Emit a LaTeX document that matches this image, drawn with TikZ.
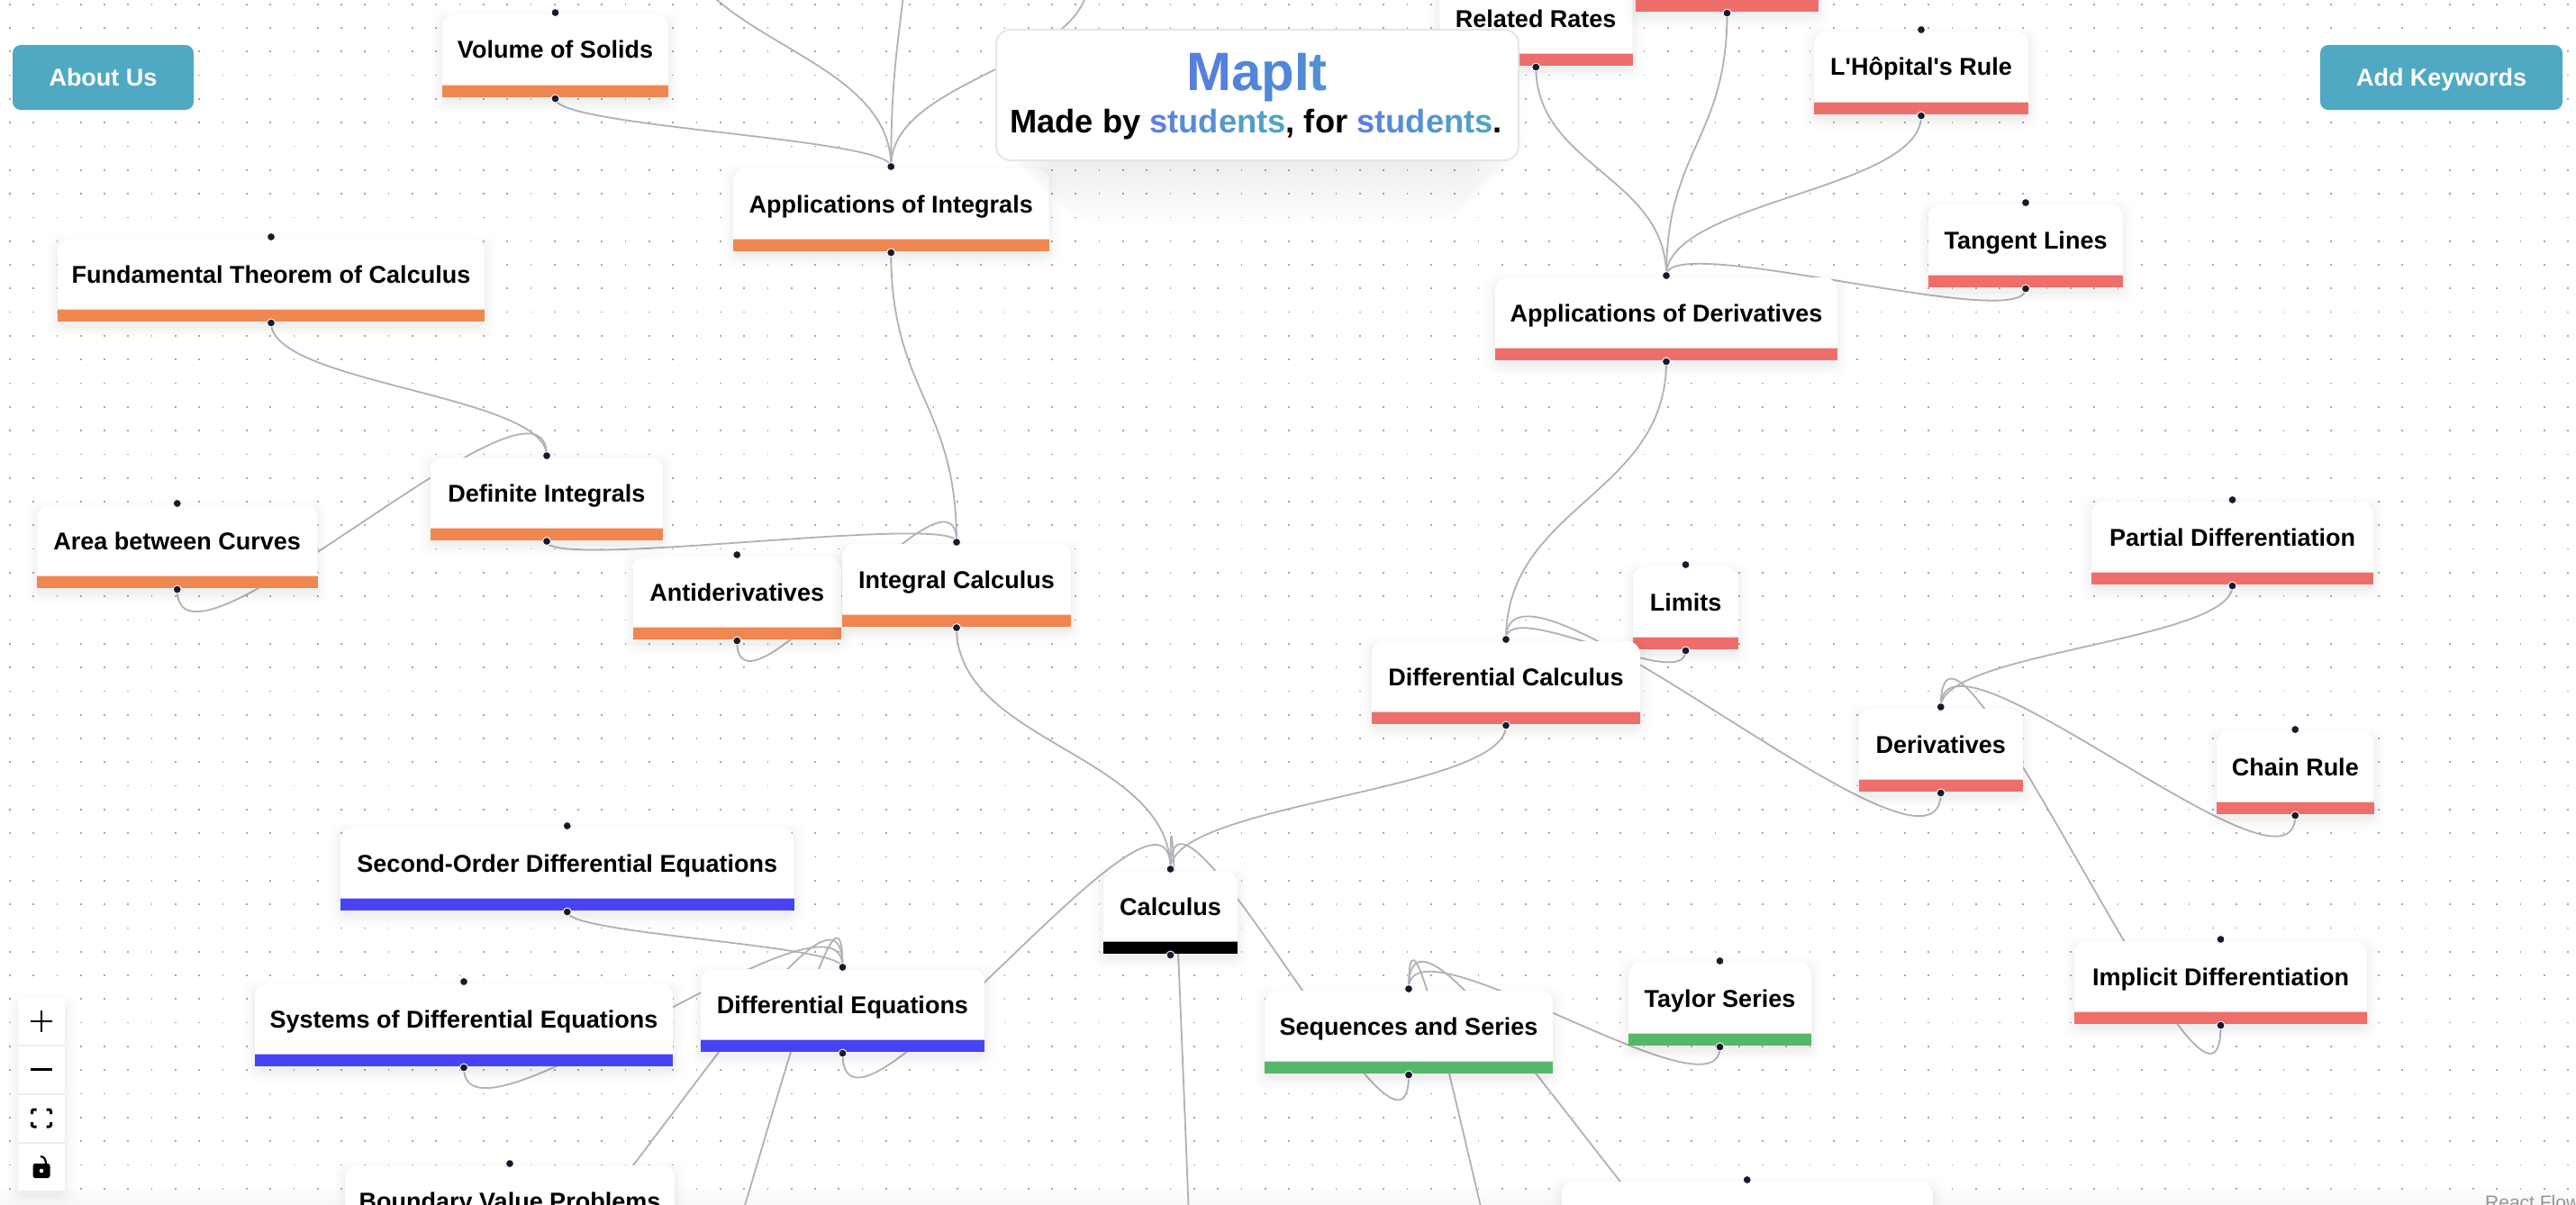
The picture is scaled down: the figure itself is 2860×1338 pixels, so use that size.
\documentclass[tikz,border=0pt]{standalone}
\usepackage{fontspec}
\setmainfont{Liberation Sans}[Ligatures=TeXOff]
\usetikzlibrary{calc}
\definecolor{orangebar}{HTML}{F08650}
\definecolor{redbar}{HTML}{EE6E6B}
\definecolor{bluebar}{HTML}{4743F5}
\definecolor{greenbar}{HTML}{55B868}
\definecolor{blackbar}{HTML}{000000}
\definecolor{edgegray}{HTML}{B1B1B7}
\definecolor{dotgray}{HTML}{A6A6AB}
\definecolor{handlecol}{HTML}{1A192B}
\definecolor{teal}{HTML}{4FA9C2}
\pgfdeclarelayer{backdrop}
\pgfdeclarelayer{edgelayer}
\pgfsetlayers{backdrop,edgelayer,main}
\tikzset{
  x=1pt,y=-1pt,
  cardlabel/.style={anchor=base,inner sep=0pt,font=\fontsize{27}{30}\selectfont\bfseries,text=black},
  handledot/.style={circle,fill=handlecol,draw=white,line width=.9pt,inner sep=0pt,minimum size=9pt},
  edgeline/.style={draw=edgegray,line width=1.8pt},
  btn/.style={fill=teal,rounded corners=9pt,inner sep=0pt,text=white,font=\fontsize{27}{30}\selectfont\bfseries,text depth=0pt},
  iconline/.style={draw=black,line cap=butt},
}
\newcommand\softshadow[4]{%
  \foreach \d/\op in {1/.02,4/.016,7/.012,10/.008,13/.005}{%
    \fill[black,opacity=\op,rounded corners=12pt] ({#1-\d},{#2+6-\d}) rectangle ({#3+\d},{#4+6+\d});
  }}
% name, x1, y1, x2, y2(bottom), colour, label
\newcommand\card[7]{%
  \softshadow{#2}{#3}{#4}{#5}%
  \fill[white] ({#2},{#5}) -- ({#2},{#3+14}) arc[start angle=180,end angle=90,radius=14pt] -- ({#4-14},{#3}) arc[start angle=90,end angle=0,radius=14pt] -- ({#4},{#5}) -- cycle;
  \fill[#6] ({#2},{#5-13}) rectangle ({#4},{#5});
  \fill[#6!35!white] ({#2},{#5-14}) rectangle ({#4},{#5-13});
  \node[cardlabel] (#1) at ({(#2+#4)/2},{#3+49}) {#7};
  \node[handledot] (#1-t) at ({(#2+#4)/2},{#3-2}) {};
  \node[handledot] (#1-b) at ({(#2+#4)/2},{#5+1.5}) {};
}
\newcommand\edg[2]{%
  \pgfpointanchor{#1-b}{center}\pgfgetlastxy{\edgxa}{\edgya}%
  \pgfpointanchor{#2-t}{center}\pgfgetlastxy{\edgxb}{\edgyb}%
  \pgfmathsetmacro\edgdy{\edgya-\edgyb-12}%
  \pgfmathsetmacro\edgc{\edgdy>0?0.5*\edgdy:9.88*sqrt(abs(\edgdy))}%
  \pgfmathsetmacro\edgyc{\edgya-\edgc}%
  \pgfmathsetmacro\edgyd{\edgyb+\edgc}%
  \draw[edgeline] (#1-b.center) .. controls (\edgxa,\edgyc pt) and (\edgxb,\edgyd pt) .. (#2-t.center);
}
\newcommand\gr[2]{\textcolor[HTML]{#1}{#2}}
\newcommand\studentsword{\gr{5B7FE2}{s}\gr{5A84DE}{t}\gr{588ADA}{u}\gr{5690D6}{d}\gr{5496D0}{e}\gr{529CCB}{n}\gr{50A0C7}{t}\gr{4FA4C4}{s}}
\begin{document}
\begin{tikzpicture}
\useasboundingbox (0,0) rectangle (2860,1338);
\begin{pgfonlayer}{backdrop}
  \fill[white] (0,0) rectangle (2860,1338);
  \shade[top color=white,bottom color=black!3] (0,1315) rectangle (2860,1338);
  \foreach \i in {0,...,108}{\foreach \j in {0,...,50}{%
    \fill[dotgray] ({10.8+26.3*\i-.85},{4.7+26.3*\j-.85}) rectangle ++(1.7,1.7);
  }}
\end{pgfonlayer}

\card{voltop}{491}{16}{742}{108}{orangebar}{Volume of Solids}
\card{aoi}{814}{187}{1164.5}{279}{orangebar}{Applications of Integrals}
\card{ftc}{64}{265}{538}{357}{orangebar}{Fundamental Theorem of Calculus}
\card{area}{41}{561}{352.5}{653}{orangebar}{Area between Curves}
\card{defint}{478}{508}{736}{599.5}{orangebar}{Definite Integrals}
\card{anti}{702.5}{618}{934}{710}{orangebar}{Antiderivatives}
\card{intcalc}{935}{604}{1189}{695.5}{orangebar}{Integral Calculus}

\card{related}{1598}{-18}{1812.5}{73}{redbar}{Related Rates}
\card{topr}{1816}{-79}{2019}{13}{redbar}{}
\card{lhop}{2014}{35}{2252}{127}{redbar}{L'Hôpital's Rule}
\card{tangent}{2141}{227}{2357}{319}{redbar}{Tangent Lines}
\card{aod}{1660}{308}{2040}{400}{redbar}{Applications of Derivatives}
\card{limits}{1813}{629}{1930}{721}{redbar}{Limits}
\card{diffcalc}{1523}{712}{1821}{804}{redbar}{Differential Calculus}
\card{partial}{2322}{557}{2635}{649}{redbar}{Partial Differentiation}
\card{deriv}{2063.5}{787}{2246}{879}{redbar}{Derivatives}
\card{chain}{2461}{812}{2635.5}{904}{redbar}{Chain Rule}
\card{implicit}{2303}{1045}{2628}{1137}{redbar}{Implicit Differentiation}

\card{calc}{1225}{967}{1374}{1059}{blackbar}{Calculus}
\card{seq}{1404}{1100}{1724}{1192}{greenbar}{Sequences and Series}
\card{taylor}{1808}{1069}{2011}{1161}{greenbar}{Taylor Series}
\card{lowr}{1733.5}{1312}{2146}{1404}{greenbar}{}

\card{second}{378}{919}{881.5}{1011}{bluebar}{Second-Order Differential Equations}
\card{systems}{283}{1092}{747}{1184}{bluebar}{Systems of Differential Equations}
\card{diffeq}{778}{1076}{1093}{1168}{bluebar}{Differential Equations}
\card{boundary}{383}{1294}{749}{1386}{bluebar}{Boundary Value Problems}

\coordinate (offa-b) at (752,-85);
\coordinate (offb-b) at (1010,-140);
\coordinate (offc-b) at (1209,-25);
\coordinate (offd-b) at (1335,1600);
\coordinate (offe-b) at (1700,1480);
\coordinate (offf-b) at (755,1480);

\begin{pgfonlayer}{edgelayer}
  \edg{offa}{aoi}\edg{offb}{aoi}\edg{offc}{aoi}\edg{voltop}{aoi}
  \edg{aoi}{intcalc}\edg{defint}{intcalc}\edg{anti}{intcalc}
  \edg{ftc}{defint}\edg{area}{defint}
  \edg{intcalc}{calc}\edg{diffcalc}{calc}\edg{diffeq}{calc}\edg{seq}{calc}\edg{offd}{calc}
  \edg{related}{aod}\edg{topr}{aod}\edg{lhop}{aod}\edg{tangent}{aod}
  \edg{aod}{diffcalc}\edg{limits}{diffcalc}\edg{deriv}{diffcalc}
  \edg{partial}{deriv}\edg{chain}{deriv}\edg{implicit}{deriv}
  \edg{taylor}{seq}\edg{lowr}{seq}\edg{offe}{seq}
  \edg{second}{diffeq}\edg{systems}{diffeq}\edg{boundary}{diffeq}\edg{offf}{diffeq}
\end{pgfonlayer}

% buttons
\softshadow{20}{1108}{72}{1322}
\node[btn,minimum width=201pt,minimum height=72pt] (about) at (114.5,86) {About Us};
\node[btn,minimum width=269pt,minimum height=72pt] (addkw) at (2710.5,86) {Add Keywords};

% zoom controls
\fill[black!7] (20,1108) rectangle (72,1322);
\foreach \a in {1108,1162,1216,1270}{\fill[white] (20,\a) rectangle (72,\a+52);}
\draw[iconline,line width=2.6pt] (34,1134) -- (58,1134) (46,1122) -- (46,1146);
\draw[iconline,line width=3pt] (34,1187.5) -- (58,1187.5);
\draw[iconline,line width=3pt,rounded corners=2pt] (35.5,1237) -- (35.5,1232) -- (40.5,1232);
\draw[iconline,line width=3pt,rounded corners=2pt] (51.5,1232) -- (56.5,1232) -- (56.5,1237);
\draw[iconline,line width=3pt,rounded corners=2pt] (35.5,1246) -- (35.5,1251) -- (40.5,1251);
\draw[iconline,line width=3pt,rounded corners=2pt] (51.5,1251) -- (56.5,1251) -- (56.5,1246);
\fill[black,rounded corners=2.5pt] (36.5,1292) rectangle (55.5,1308);
\draw[iconline,line width=2.2pt] (45,1284) .. controls (49,1284) and (51,1288) .. (51,1292);
\fill[white] (46,1300) circle[radius=2.3pt];

% watermark
\node[anchor=base west,inner sep=0pt,font=\fontsize{21}{24}\selectfont,text=black!42] (rf) at (2759,1342) {React Flow};

% title card
\foreach \k in {0,...,17}{%
  \fill[black,opacity=.004,rounded corners=34pt] ({1110+\k*4},60) rectangle ({1695-\k*4},{182+\k*4});
}
\filldraw[fill=white,draw=black!10,line width=2pt,rounded corners=16pt] (1106,33) rectangle (1686,178);
\node[anchor=base,inner sep=0pt,font=\fontsize{60}{66}\selectfont\bfseries] (title) at (1395.5,100)
  {\gr{5580DE}{M}\gr{5284DC}{a}\gr{5088D9}{p}\gr{4F8CD5}{I}\gr{4E92D0}{t}};
\node[anchor=base,inner sep=0pt,font=\fontsize{36.3}{40}\selectfont\bfseries,text=black] (subtitle) at (1394.5,147.7)
  {Made by \studentsword, for \studentsword.};
\end{tikzpicture}
\end{document}
